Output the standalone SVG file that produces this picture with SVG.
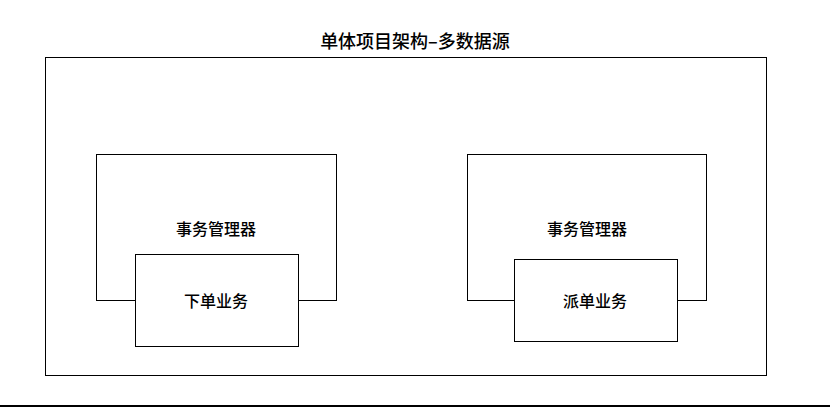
<svg xmlns="http://www.w3.org/2000/svg" width="830" height="408" viewBox="0 0 830 408">
<style>
.b{fill:#fff;stroke:#000;stroke-width:1}
.t{font-family:"Noto Sans CJK SC",sans-serif;font-size:16px;font-weight:500;text-anchor:middle;dominant-baseline:central;fill:#000}
</style>
<rect width="830" height="408" fill="#fff"/>
<text class="t" x="415" y="40" style="font-size:18px">单体项目架构–多数据源</text>
<g id="outer"><rect class="b" x="45.5" y="57.5" width="721" height="318"/></g>
<g id="tm1"><rect class="b" x="96.5" y="154.5" width="240" height="146"/><text class="t" x="216" y="228">事务管理器</text></g>
<g id="order"><rect class="b" x="135.5" y="254.5" width="163" height="92"/><text class="t" x="216" y="300">下单业务</text></g>
<g id="tm2"><rect class="b" x="467.5" y="154.5" width="239" height="146"/><text class="t" x="587" y="228">事务管理器</text></g>
<g id="dispatch"><rect class="b" x="514.5" y="259.5" width="163" height="82"/><text class="t" x="595" y="300">派单业务</text></g>
<g id="connectors"></g>
<line x1="0" y1="406" x2="830" y2="406" stroke="#000" stroke-width="2"/>
</svg>
